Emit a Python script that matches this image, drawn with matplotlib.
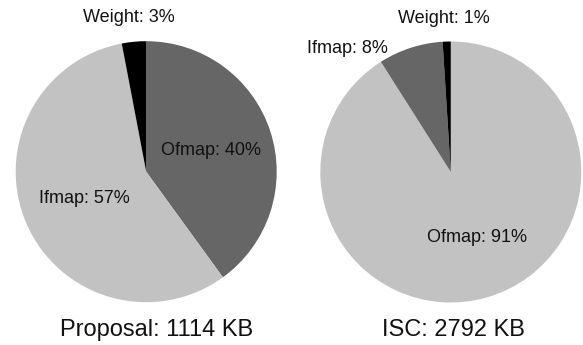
"""
Two pie charts comparing on-chip buffer breakdown: Proposal vs ISC.
"""

import numpy as np
import matplotlib.pyplot as plt

plt.rcParams['font.family'] = ['Liberation Sans', 'DejaVu Sans']

# data (clockwise from 12 o'clock)
prop_labels = ['Ofmap', 'Ifmap', 'Weight']
prop_values = [40, 57, 3]
prop_colors = ['#666666', '#c2c2c2', '#000000']
prop_title = 'Proposal: 1114 KB'

isc_labels = ['Ofmap', 'Ifmap', 'Weight']
isc_values = [91, 8, 1]
isc_colors = ['#c2c2c2', '#666666', '#000000']
isc_title = 'ISC: 2792 KB'

W, H = 583, 345


def add_pie(cx, cy, r, values, labels, colors, title, title_x, outer):
    """
    Draw one pie in an axes placed by pixel centre/radius. Labels of big
    wedges go inside along the wedge bisector, small ones use `outer`.
    """
    ax = plt.gcf().add_axes([(cx - r) / W, (H - cy - r) / H, 2 * r / W, 2 * r / H])
    wedges, _ = ax.pie(values, colors=colors, startangle=90, counterclock=False,
                       wedgeprops=dict(linewidth=0))
    ax.set_xlim(-1, 1)
    ax.set_ylim(-1, 1)
    ax.axis('off')

    for w, lab, v in zip(wedges, labels, values):
        text = f'{lab}: {v}%'
        if lab in outer:
            x, y = outer[lab]
        else:
            mid = np.deg2rad((w.theta1 + w.theta2) / 2)
            x, y = 0.52 * np.cos(mid), 0.52 * np.sin(mid)
        ax.text(x, y, text, ha='center', va='center', fontsize=13, color='#111111')

    plt.gcf().text(title_x / W, 1 - 330 / H, title, ha='center', va='center',
                   fontsize=17, color='#111111')


def main():
    plt.figure(figsize=(W / 100, H / 100), dpi=100)

    add_pie(146.2, 171.7, 130.5, prop_values, prop_labels, prop_colors, prop_title, 157,
            outer={'Weight': (-0.13, 1.18)})
    add_pie(450.8, 172.0, 130.5, isc_values, isc_labels, isc_colors, isc_title, 453,
            outer={'Weight': (-0.05, 1.18), 'Ifmap': (-0.79, 0.95), 'Ofmap': (0.2, -0.5)})

    plt.savefig('out.png', dpi=100)


if __name__ == '__main__':
    main()
